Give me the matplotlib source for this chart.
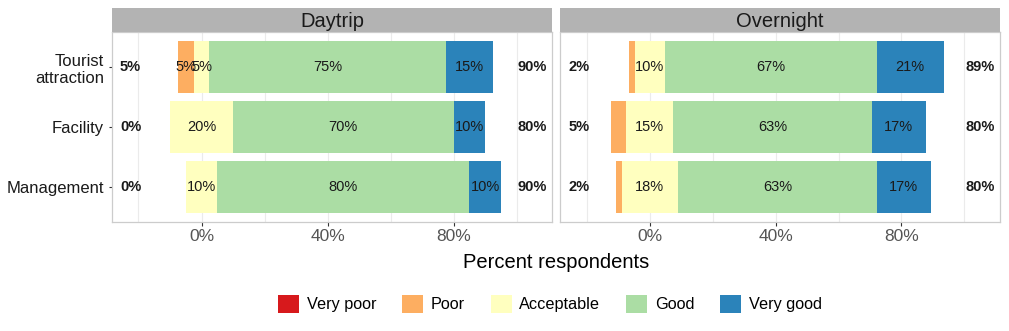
import matplotlib.pyplot as plt
from matplotlib.patches import Patch

plt.rcParams["font.family"] = ["Liberation Sans", "DejaVu Sans"]

items = ["Tourist attraction", "Facility", "Management"]
levels = ["Very poor", "Poor", "Acceptable", "Good", "Very good"]
colors = ["#D7191C", "#FDAE61", "#FFFFBF", "#ABDDA4", "#2B83BA"]
item_labels = ["Tourist\nattraction", "Facility", "Management"]

# percent per level, order: Tourist attraction, Facility, Management
daytrip = {
    "Very poor": [0, 0, 0],
    "Poor": [5, 0, 0],
    "Acceptable": [5, 20, 10],
    "Good": [75, 70, 80],
    "Very good": [15, 10, 10],
}
overnight = {
    "Very poor": [0, 0, 0],
    "Poor": [1.8, 4.9, 1.8],
    "Acceptable": [9.6, 14.8, 17.8],
    "Good": [67.3, 63.2, 63.3],
    "Very good": [21.3, 17.1, 17.1],
}
groups = [("Daytrip", daytrip), ("Overnight", overnight)]

W, H = 1009, 331
fig = plt.figure(figsize=(W / 100, H / 100), dpi=100)

panels = [(111.7, 552.3), (560, 1000)]
top, bottom, strip_top = 31.7, 222.3, 8
ypos = [3, 2, 1]

for i, ((title, data), (x0, x1)) in enumerate(zip(groups, panels)):
    ax = fig.add_axes([x0 / W, 1 - bottom / H, (x1 - x0) / W, (bottom - top) / H])
    ax.set_xlim(-28.5, 111.3)
    ax.set_ylim(0.41, 3.59)
    ax.set_xticks([0, 40, 80])
    ax.set_xticks([-20, 20, 60, 100], minor=True)
    ax.set_xticklabels(["0%", "40%", "80%"])
    ax.grid(True, which="both", axis="x", color="#EBEBEB", lw=0.8)
    ax.set_axisbelow(True)
    ax.tick_params(axis="x", which="major", length=3, color="#333333",
                   labelsize=12.5, labelcolor="#555555", pad=2)
    ax.tick_params(axis="x", which="minor", length=0)
    for s in ax.spines.values():
        s.set_color("#CCCCCC")
        s.set_linewidth(0.9)

    for j, y in enumerate(ypos):
        vals = [data[lv][j] for lv in levels]
        start = -(vals[0] + vals[1] + vals[2] / 2)
        left = start
        for lv, v, c in zip(levels, vals, colors):
            if v > 0:
                ax.barh(y, v, left=left, height=0.88, color=c, lw=0)
                if v >= 5:
                    ax.text(left + v / 2, y, f"{v:.0f}%", ha="center",
                            va="center", fontsize=10.5, color="#1A1A1A")
            left += v
        low = vals[0] + vals[1]
        high = vals[3] + vals[4]
        ax.text(-22.5, y, f"{low:.0f}%", ha="center", va="center",
                fontsize=10.5, fontweight="bold", color="#1A1A1A")
        ax.text(105, y, f"{high:.0f}%", ha="center", va="center",
                fontsize=10.5, fontweight="bold", color="#1A1A1A")

    ax.set_yticks(ypos)
    if i == 0:
        ax.set_yticklabels(item_labels, fontsize=12, color="#1A1A1A")
        ax.tick_params(axis="y", length=2.5, color="#333333", pad=3)
    else:
        ax.set_yticklabels([])
        ax.tick_params(axis="y", length=0)

    sax = fig.add_axes([x0 / W, 1 - top / H, (x1 - x0) / W, (top - strip_top) / H])
    sax.set_facecolor("#B3B3B3")
    sax.set_xticks([])
    sax.set_yticks([])
    for s in sax.spines.values():
        s.set_visible(False)
    sax.text(0.5, 0.45, title, ha="center", va="center", fontsize=14.5,
             color="#1A1A1A", transform=sax.transAxes)

fig.text(556 / W, 1 - 263 / H, "Percent respondents", ha="center",
         va="center", fontsize=14.5, color="#000000")

handles = [Patch(facecolor=c, edgecolor="none", label=lv)
           for lv, c in zip(levels, colors)]
fig.legend(handles=handles, loc="center", bbox_to_anchor=(550 / W, 1 - 304 / H),
           ncol=5, frameon=False, fontsize=11.7, handlelength=1.3,
           handleheight=1.3, handletextpad=0.45, columnspacing=1.6)

fig.savefig("out.png", dpi=100)
